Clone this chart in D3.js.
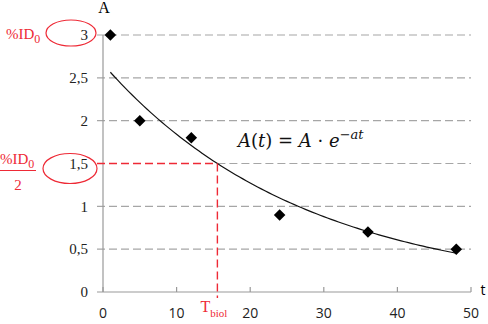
<!DOCTYPE html>
<html>
<head>
<meta charset="utf-8">
<script src="https://cdn.jsdelivr.net/npm/d3@7"></script>
<style>
  body { margin: 0; background: #fff; }
  svg { display: block; }
</style>
</head>
<body>
<svg id="chart"></svg>
<script>
// measured points (t, A)
const times = [1, 5, 12, 24, 36, 48];
const activity = [3, 2, 1.8, 0.9, 0.7, 0.5];
const yTicks = [0, 0.5, 1, 1.5, 2, 2.5, 3];
const xTicks = [0, 10, 20, 30, 40, 50];
const halfLevel = 1.5; // %ID0 / 2

const width = 488, height = 324;
const margin = { top: 35, right: 17, bottom: 32, left: 103 };
const red = "#ee2a36";

const svg = d3.select("#chart").attr("width", width).attr("height", height);

const x = d3.scaleLinear().domain([0, 50]).range([margin.left, width - margin.right]);
const y = d3.scaleLinear().domain([0, 3]).range([height - margin.bottom, margin.top]);

// exponential fit A(t) = A0 * exp(-a t), least squares on ln
const lnA = activity.map(Math.log);
const tMean = d3.mean(times), lMean = d3.mean(lnA);
const slope = d3.sum(times, (t, i) => (t - tMean) * (lnA[i] - lMean)) /
  d3.sum(times, t => (t - tMean) ** 2);
const A0 = Math.exp(lMean - slope * tMean);
const fit = t => A0 * Math.exp(slope * t);
const tHalf = Math.log(halfLevel / A0) / slope;

// gridlines (the half level is grey only right of the red marker)
svg.append("g")
  .selectAll("line")
  .data(yTicks.filter(d => d > 0))
  .join("line")
  .attr("x1", d => d === halfLevel ? x(tHalf) : x(0) - 6)
  .attr("x2", x(50))
  .attr("y1", d => y(d))
  .attr("y2", d => y(d))
  .attr("stroke", "#a6a6a6")
  .attr("stroke-width", 1.2)
  .attr("stroke-dasharray", "8,4");

// axes
svg.append("line")
  .attr("x1", x(0)).attr("x2", x(0))
  .attr("y1", y(3)).attr("y2", y(0))
  .attr("stroke", "#999").attr("stroke-width", 1.2);
svg.append("line")
  .attr("x1", x(0) - 6).attr("x2", x(50))
  .attr("y1", y(0)).attr("y2", y(0))
  .attr("stroke", "#999").attr("stroke-width", 1.2);
svg.append("g")
  .selectAll("line")
  .data(xTicks)
  .join("line")
  .attr("x1", d => x(d)).attr("x2", d => x(d))
  .attr("y1", y(0)).attr("y2", y(0) - 5)
  .attr("stroke", "#999").attr("stroke-width", 1.2);

// tick labels
svg.append("g")
  .selectAll("text")
  .data(yTicks)
  .join("text")
  .attr("x", x(0) - 15)
  .attr("y", d => y(d))
  .attr("dy", "0.35em")
  .attr("text-anchor", "end")
  .attr("font-family", "Liberation Serif")
  .attr("font-size", 15)
  .attr("fill", "#222")
  .text(d => d3.format("")(d).replace(".", ","));
svg.append("g")
  .selectAll("text")
  .data(xTicks)
  .join("text")
  .attr("x", d => x(d))
  .attr("y", height - 6)
  .attr("text-anchor", "middle")
  .attr("font-family", "Open Sans")
  .attr("font-size", 14)
  .attr("fill", "#222")
  .text(d => d);

// axis titles
svg.append("text").attr("x", x(0) + 1).attr("y", 13)
  .attr("text-anchor", "middle")
  .attr("font-family", "Liberation Serif").attr("font-size", 16)
  .text("A");
svg.append("text").attr("x", 483).attr("y", 295)
  .attr("text-anchor", "middle")
  .attr("font-family", "Open Sans").attr("font-size", 14)
  .text("t");

// trend curve
const curve = d3.range(times[0], times[times.length - 1] + 0.01, 0.5);
svg.append("path")
  .datum(curve)
  .attr("d", d3.line().x(t => x(t)).y(t => y(fit(t))))
  .attr("fill", "none")
  .attr("stroke", "#111")
  .attr("stroke-width", 1.2);

// half-life marker
svg.append("line")
  .attr("x1", x(0) - 6).attr("x2", x(tHalf))
  .attr("y1", y(halfLevel)).attr("y2", y(halfLevel))
  .attr("stroke", red).attr("stroke-width", 1.4)
  .attr("stroke-dasharray", "8,4");
svg.append("line")
  .attr("x1", x(tHalf)).attr("x2", x(tHalf))
  .attr("y1", y(halfLevel)).attr("y2", y(0) + 6)
  .attr("stroke", red).attr("stroke-width", 1.4)
  .attr("stroke-dasharray", "8,4");
const tb = svg.append("text")
  .attr("x", x(tHalf) - 17).attr("y", 312)
  .attr("font-family", "Liberation Serif").attr("font-size", 16)
  .attr("fill", red);
tb.append("tspan").text("T");
tb.append("tspan").attr("dy", 5).attr("font-size", 11).text("biol");

// data points (diamonds)
svg.append("g")
  .selectAll("path")
  .data(times.map((t, i) => ({ t, a: activity[i] })))
  .join("path")
  .attr("transform", d => `translate(${x(d.t)},${y(d.a)})`)
  .attr("d", d3.symbol(d3.symbolDiamond2, 85))
  .attr("fill", "#000");

// formula
const f = svg.append("text")
  .attr("x", 238).attr("y", 147)
  .attr("font-family", "DejaVu Serif").attr("font-size", 18)
  .attr("fill", "#111");
f.append("tspan").attr("font-style", "italic").text("A");
f.append("tspan").text("(");
f.append("tspan").attr("font-style", "italic").text("t");
f.append("tspan").text(") = ");
f.append("tspan").attr("font-style", "italic").text("A");
f.append("tspan").text(" · ");
f.append("tspan").attr("font-style", "italic").text("e");
f.append("tspan").attr("dy", -8).attr("font-size", 13).text("−");
f.append("tspan").attr("font-size", 13).attr("font-style", "italic").text("at");

// red annotations: %ID0 at 3 and %ID0/2 at 1.5
svg.append("ellipse")
  .attr("cx", 71).attr("cy", y(3) - 2).attr("rx", 25).attr("ry", 13)
  .attr("fill", "none").attr("stroke", red).attr("stroke-width", 1.2);
svg.append("ellipse")
  .attr("cx", 70).attr("cy", y(halfLevel) + 5).attr("rx", 27).attr("ry", 15)
  .attr("fill", "none").attr("stroke", red).attr("stroke-width", 1.2);

function idLabel(xx, yy) {
  const t = svg.append("text").attr("x", xx).attr("y", yy)
    .attr("font-family", "Liberation Serif").attr("font-size", 15)
    .attr("fill", red);
  t.append("tspan").text("%ID");
  t.append("tspan").attr("dy", 4).attr("font-size", 12).text("0");
}
idLabel(6, y(3) + 4);
idLabel(0, y(halfLevel));
svg.append("line")
  .attr("x1", 0).attr("x2", 36)
  .attr("y1", y(halfLevel) + 7).attr("y2", y(halfLevel) + 7)
  .attr("stroke", red).attr("stroke-width", 1);
svg.append("text")
  .attr("x", 18).attr("y", y(halfLevel) + 26)
  .attr("text-anchor", "middle")
  .attr("font-family", "Liberation Serif").attr("font-size", 15)
  .attr("fill", red)
  .text("2");
</script>
</body>
</html>
